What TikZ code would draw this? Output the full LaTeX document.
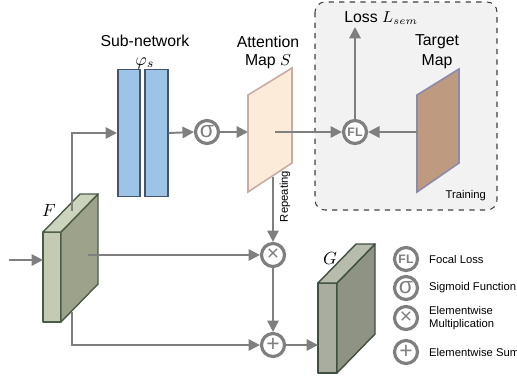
\documentclass[tikz,border=0pt]{standalone}
\usepackage{fontspec}
\setmainfont{Liberation Sans}
\usetikzlibrary{arrows.meta}
\definecolor{linegray}{HTML}{7F7F7F}
\definecolor{barfill}{HTML}{9DC3E6}
\definecolor{barline}{HTML}{44546A}
\definecolor{attfill}{HTML}{FDEBD9}
\definecolor{attline}{HTML}{C9ABA3}
\definecolor{tgtfill}{HTML}{BD9A80}
\definecolor{tgtline}{HTML}{8C8AA8}
\definecolor{ffront}{HTML}{C4CBB2}
\definecolor{fside}{HTML}{9CA38A}
\definecolor{ftop}{HTML}{CDD4BE}
\definecolor{fline}{HTML}{4B5B47}
\definecolor{gfront}{HTML}{A8ADA0}
\definecolor{gside}{HTML}{8E9383}
\definecolor{gtop}{HTML}{B8BCAD}
\definecolor{gline}{HTML}{3F5040}
\begin{document}
\begin{tikzpicture}[x=0.02cm,y=-0.02cm,
    arr/.style={draw=linegray,line width=1.1pt,-{Triangle[length=6.5pt,width=6.5pt]}},
    op/.style={circle,draw=linegray,line width=1.8pt,fill=white,minimum size=0.46cm,inner sep=0pt,text=linegray},
    bar/.style={draw=barline,fill=barfill,line width=0.9pt,minimum width=0.45cm,minimum height=2.54cm,inner sep=0pt},
    lbl/.style={font=\fontsize{9}{10.5}\selectfont},
    small/.style={font=\fontsize{6.4}{7.4}\selectfont}]
  \useasboundingbox (0,0) rectangle (517,379);

  % training part
  \draw[dashed,rounded corners=0.2cm,draw=black!75,fill=black!5,line width=0.6pt] (315,2) rectangle (497,210);
  \node[small,anchor=south east] (train) at (492,207) {Training};

  % sub-network
  \node[bar] (bar1) at (129,133) {};
  \node[bar] (bar2) at (156.5,133) {};
  \node[lbl] (subnet) at (145,41) {Sub-network};
  \node[lbl,font=\fontsize{10}{12}\selectfont] (phi) at (145,63) {$\varphi_s$};

  % attention map and target map
  \draw[draw=attline,fill=attfill,line width=0.9pt] (248,95) -- (292,68) -- (292,163) -- (248,192) -- cycle;
  \node[lbl] (att1) at (268,42) {Attention};
  \node[lbl] (att2) at (268,62) {Map $S$};
  \draw[draw=tgtline,fill=tgtfill,line width=0.9pt] (417,95) -- (459,69) -- (459,163) -- (417,192) -- cycle;
  \node[lbl] (tgt1) at (437,42) {Target};
  \node[lbl] (tgt2) at (437,62) {Map};

  % feature blocks
  \draw[draw=fline,fill=ffront,line width=0.8pt,line join=round] (43,232) rectangle (61,322);
  \draw[draw=fline,fill=fside,line width=0.8pt,line join=round] (61,232) -- (98,194) -- (98,284) -- (61,322) -- cycle;
  \draw[draw=fline,fill=ftop,line width=0.8pt,line join=round] (43,232) -- (80,194) -- (98,194) -- (61,232) -- cycle;
  \node[lbl,font=\fontsize{10}{12}\selectfont] (flabel) at (49,210) {$F$};
  \draw[draw=gline,fill=gfront,line width=0.8pt,line join=round] (318,283) rectangle (337,373);
  \draw[draw=gline,fill=gside,line width=0.8pt,line join=round] (337,283) -- (375,244) -- (375,334) -- (337,373) -- cycle;
  \draw[draw=gline,fill=gtop,line width=0.8pt,line join=round] (318,283) -- (356,244) -- (375,244) -- (337,283) -- cycle;
  \node[lbl,font=\fontsize{10}{12}\selectfont] (glabel) at (330,258) {$G$};

  % operators
  \node[op,font=\fontsize{13}{13}\selectfont] (sig) at (207,132) {σ};
  \node[op,font=\bfseries\fontsize{7}{7}\selectfont] (fl) at (355,132) {FL};
  \node[op,font=\fontsize{12}{12}\selectfont] (mul) at (273,255) {×};
  \node[op,font=\fontsize{13}{13}\selectfont] (add) at (273,345) {+};

  \coordinate (inp) at (9,260);
  \coordinate (fin) at (43,260);
  \coordinate (ftopc) at (72,211);
  \coordinate (fmid) at (88,255);
  \coordinate (fbot) at (72,312);
  \coordinate (attin) at (248,132);
  \coordinate (attmid) at (275,132);
  \coordinate (attbot) at (273,177);
  \coordinate (tgtmid) at (417,132);
  \coordinate (loss) at (355,27);
  \coordinate (gin) at (318,345);

  % connections
  \draw[arr] (inp) -- (fin);
  \draw[arr] (ftopc) |- (bar1.west);
  \draw[arr] (bar2.east) -- (sig.west);
  \draw[arr] (sig.east) -- (attin);
  \draw[arr] (attmid) -- (fl.west);
  \draw[arr] (tgtmid) -- (fl.east);
  \draw[arr] (fl.north) -- (loss) node[lbl,anchor=south west,xshift=-0.35cm,yshift=-0.08cm] {Loss $L_{sem}$};
  \draw[arr] (attbot) -- (mul.north) node[small,pos=0.3,rotate=90,anchor=north] {Repeating};
  \draw[arr] (fmid) -- (mul.west);
  \draw[arr] (fbot) |- (add.west);
  \draw[arr] (mul.south) -- (add.north);
  \draw[arr] (add.east) -- (gin);

  % legend
  \node[op,font=\bfseries\fontsize{7}{7}\selectfont] (lfl) at (406,259) {FL};
  \node[op,font=\fontsize{13}{13}\selectfont] (lsig) at (406,288) {σ};
  \node[op,font=\fontsize{12}{12}\selectfont] (lmul) at (406,318) {×};
  \node[op,font=\fontsize{13}{13}\selectfont] (ladd) at (406,352) {+};
  \node[small,anchor=west] (tfl) at (423,259) {Focal Loss};
  \node[small,anchor=west] (tsig) at (423,288) {Sigmoid Function};
  \node[small,anchor=west,align=left] (tmul) at (423,318) {Elementwise\\Multiplication};
  \node[small,anchor=west] (tadd) at (423,352) {Elementwise Sum};
\end{tikzpicture}
\end{document}
